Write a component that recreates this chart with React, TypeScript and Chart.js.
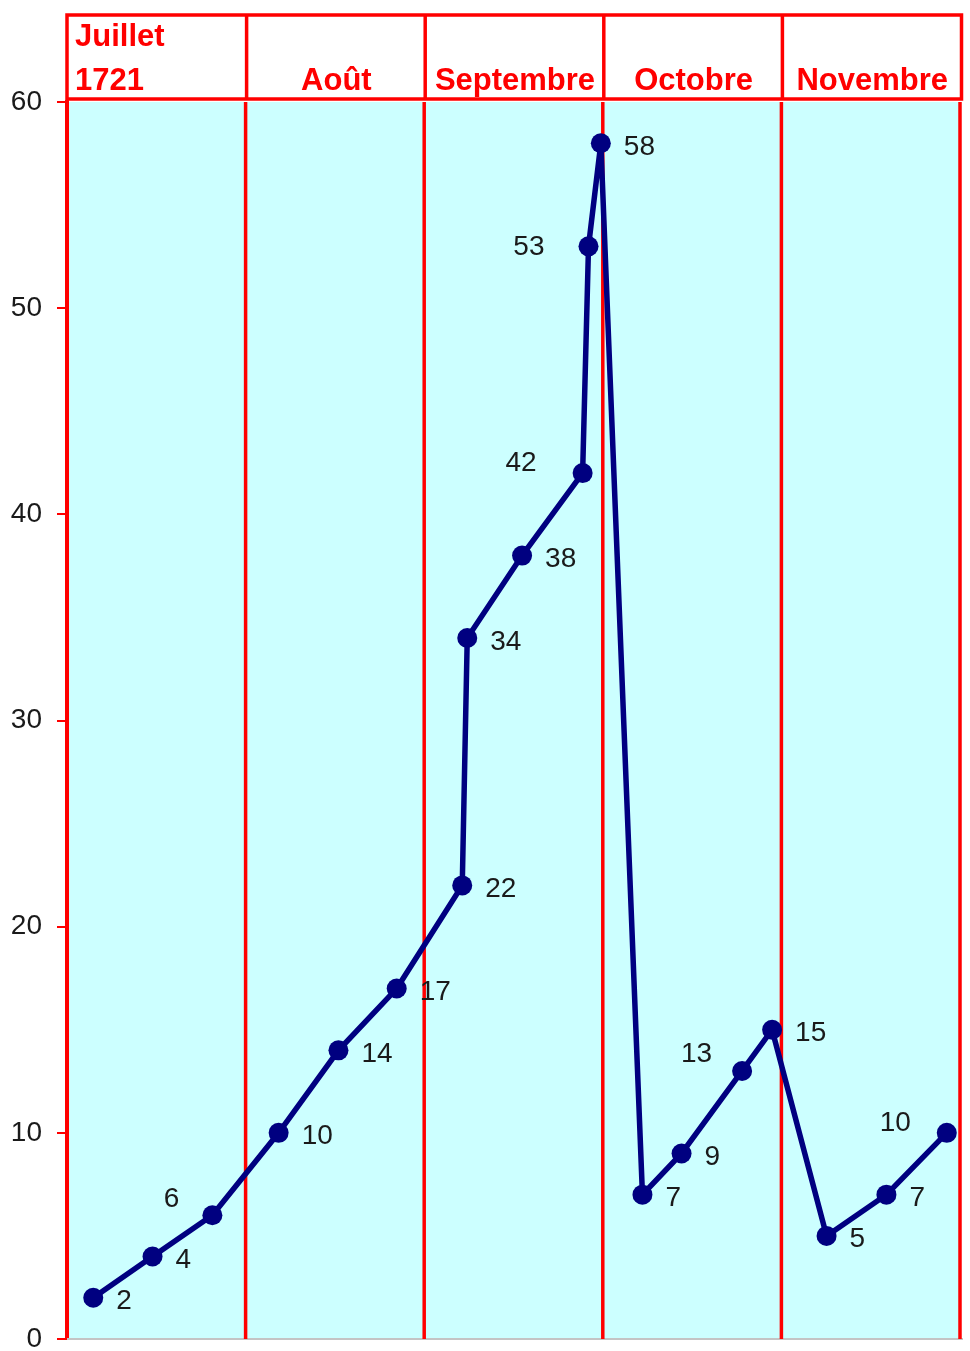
import React, { useEffect, useRef } from "react";
import { Chart, registerables } from "chart.js";

Chart.register(...registerables);

// ---- data ----
const MONTHS = ["Juillet", "Août", "Septembre", "Octobre", "Novembre"];
const YEAR_LABEL = "1721";
// position along the time axis, in months from 1 July 1721
const POSITIONS = [
  0.147, 0.479, 0.814, 1.185, 1.52, 1.846, 2.213, 2.241, 2.548, 2.887,
  2.92, 2.989, 3.222, 3.441, 3.78, 3.948, 4.253, 4.588, 4.926,
];
const VALUES = [2, 4, 6, 10, 14, 17, 22, 34, 38, 42, 53, 58, 7, 9, 13, 15, 5, 7, 10];
const Y_MIN = 0;
const Y_MAX = 60;
const Y_STEP = 10;

// ---- label placement (style only) ----
const LABEL_OFFSETS: Array<[number, number]> = [
  [23, 1.5], [23, 1.5], [-33, -18.5], [23, 1.5], [23, 1.5], [23, 1.5],
  [23, 1.5], [23, 1.5], [23, 1.5], [-46, -11.7], [-44, -1.8], [23, 1.5],
  [23, 1.5], [23, 1.5], [-30, -18.7], [23, 1.5], [23, 1.5], [23, 1.5],
  [-36, -11.7],
];

const FONT = "'Liberation Sans', Arial, sans-serif";
const RED = "#ff0000";
const NAVY = "#000080";

const decorPlugin = {
  id: "decor",
  beforeDraw(chart: any) {
    const { ctx, chartArea: a } = chart;
    ctx.save();
    ctx.fillStyle = "#ffffff";
    ctx.fillRect(0, 0, chart.width, chart.height);
    ctx.fillStyle = "#CCFFFF";
    ctx.fillRect(a.left, a.top, a.right - a.left, a.bottom - a.top);
    ctx.restore();
  },
  beforeDatasetsDraw(chart: any) {
    const { ctx, chartArea: a } = chart;
    const xs = chart.scales.x;
    ctx.save();
    // bottom axis line
    ctx.strokeStyle = "#c4c4c4";
    ctx.lineWidth = 2;
    ctx.beginPath();
    ctx.moveTo(a.left, a.bottom);
    ctx.lineTo(a.right + 3, a.bottom);
    ctx.stroke();
    // month separators
    ctx.strokeStyle = RED;
    ctx.lineWidth = 3.5;
    for (let k = 1; k <= MONTHS.length; k++) {
      const px = xs.getPixelForValue(k);
      ctx.beginPath();
      ctx.moveTo(px, a.top);
      ctx.lineTo(px, a.bottom);
      ctx.stroke();
    }
    // header band
    const top = 15;
    const bottom = 99;
    const left = a.left;
    const right = a.right + 1.5;
    ctx.lineWidth = 3.5;
    ctx.strokeRect(left, top, right - left, bottom - top);
    for (let k = 1; k < MONTHS.length; k++) {
      const px = xs.getPixelForValue(k) + 1;
      ctx.beginPath();
      ctx.moveTo(px, top);
      ctx.lineTo(px, bottom);
      ctx.stroke();
    }
    ctx.fillStyle = RED;
    ctx.font = `bold 31px ${FONT}`;
    ctx.textBaseline = "alphabetic";
    MONTHS.forEach((m, i) => {
      const x0 = xs.getPixelForValue(i);
      const x1 = xs.getPixelForValue(i + 1);
      if (i === 0) {
        ctx.textAlign = "left";
        ctx.fillText(m, x0 + 8, 46);
        ctx.fillText(YEAR_LABEL, x0 + 8, 89.5);
      } else {
        ctx.textAlign = "center";
        ctx.fillText(m, (x0 + x1) / 2 + 1.5, 89.5);
      }
    });
    ctx.restore();
  },
  afterDatasetsDraw(chart: any) {
    const { ctx } = chart;
    const xs = chart.scales.x;
    const ys = chart.scales.y;
    ctx.save();
    ctx.fillStyle = "#1a1a1a";
    ctx.font = `28px ${FONT}`;
    ctx.textBaseline = "alphabetic";
    VALUES.forEach((v, i) => {
      const px = xs.getPixelForValue(POSITIONS[i]);
      const py = ys.getPixelForValue(v);
      const [dx, dy] = LABEL_OFFSETS[i];
      ctx.textAlign = dx >= 0 ? "left" : "right";
      ctx.fillText(String(v), px + dx, py + dy + 10);
    });
    ctx.restore();
  },
};

export default function App() {
  const canvasRef = useRef<HTMLCanvasElement | null>(null);

  useEffect(() => {
    const canvas = canvasRef.current;
    if (!canvas) return;
    const chart = new Chart(canvas, {
      type: "line",
      data: {
        datasets: [
          {
            label: "Série",
            data: VALUES.map((v, i) => ({ x: POSITIONS[i], y: v })),
            borderColor: NAVY,
            backgroundColor: NAVY,
            borderWidth: 5.5,
            pointRadius: 10,
            pointHoverRadius: 10,
            pointBackgroundColor: NAVY,
            pointBorderWidth: 0,
            tension: 0,
            clip: false as any,
          },
        ],
      },
      options: {
        animation: false,
        responsive: false,
        devicePixelRatio: 1,
        layout: { padding: { top: 102, right: 5, bottom: 12, left: 0 } },
        plugins: {
          legend: { display: false },
          tooltip: { enabled: false },
          title: { display: false },
        },
        scales: {
          x: {
            type: "linear",
            min: 0,
            max: MONTHS.length,
            display: false,
          },
          y: {
            type: "linear",
            min: Y_MIN,
            max: Y_MAX,
            ticks: {
              stepSize: Y_STEP,
              color: "#1a1a1a",
              padding: 15,
              font: { family: FONT, size: 28 },
            },
            grid: {
              drawOnChartArea: false,
              drawTicks: true,
              tickLength: 10,
              color: RED,
              lineWidth: 2,
            },
            border: { display: true, color: RED, width: 4 },
            afterFit(scale: any) {
              scale.width = 67;
              scale.paddingTop = 0;
              scale.paddingBottom = 0;
            },
          },
        },
      },
      plugins: [decorPlugin],
    });
    return () => chart.destroy();
  }, []);

  return (
    <div style={{ position: "absolute", left: 0, top: 0, width: 970, height: 1351, background: "#fff" }}>
      <canvas ref={canvasRef} width={970} height={1351} style={{ display: "block", width: 970, height: 1351 }} />
    </div>
  );
}
